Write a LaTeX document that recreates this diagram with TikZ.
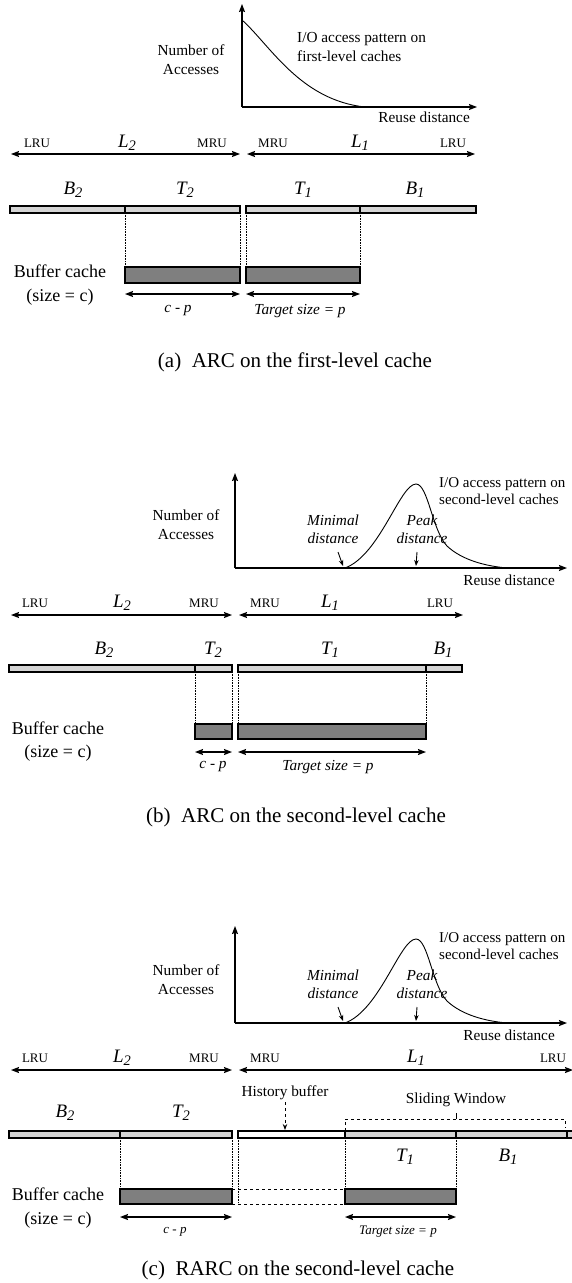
\documentclass[tikz,border=0pt]{standalone}
\usepackage{fontspec}
\setmainfont{Liberation Serif}
\usetikzlibrary{arrows.meta}
\definecolor{lightbar}{HTML}{D4D4D4}
\definecolor{darkbar}{HTML}{7F7F7F}
\newcommand{\lowsub}[1]{\raisebox{-3.2pt}{\fontsize{14.5}{14.5}\selectfont\itshape #1}}
\begin{document}
\begin{tikzpicture}[x=1pt,y=-1pt,
  >={Stealth[length=8pt,width=6pt,inset=1.2pt]},
  tx/.style={inner sep=0pt, font=\fontsize{15.3}{18}\selectfont},
  gtx/.style={inner sep=0pt, font=\fontsize{15.3}{19}\selectfont},
  ltx/.style={inner sep=0pt, font=\fontsize{13}{15}\selectfont},
  big/.style={inner sep=0pt, font=\fontsize{19}{22}\selectfont\itshape},
  buf/.style={inner sep=0pt, align=center, font=\fontsize{18}{23.5}\selectfont},
  captxt/.style={inner sep=0pt, font=\fontsize{21}{25}\selectfont},
  lab/.style={inner sep=0pt, font=\fontsize{15.3}{18}\selectfont\itshape},
  slab/.style={inner sep=0pt, font=\fontsize{13}{15}\selectfont\itshape},
  axis/.style={->, line width=1.2pt},
  dbl/.style={<->, line width=1.2pt},
  curve/.style={line width=0.9pt},
  lbar/.style={draw=black, line width=1.1pt, fill=lightbar},
  dbar/.style={draw=black, line width=1.1pt, fill=darkbar},
  wbar/.style={draw=black, line width=1.1pt, fill=white},
  guide/.style={densely dotted, line width=0.6pt},
  pointer/.style={->, line width=0.9pt, >={Stealth[length=6pt,width=4.5pt]}},
  dashbox/.style={dashed, line width=0.9pt}
]
\useasboundingbox (0,0) rectangle (571,1283);

% ================= Panel (a) =================
\coordinate (aO) at (242,107);
\coordinate (aY) at (242,4);
\coordinate (aX) at (477,107);
\draw[axis] (aO) -- (aY);
\draw[axis] (aO) -- (aX);
\draw[curve] (242,20) .. controls (270,45) and (300,100) .. (365,107);
\node[gtx, align=center] (aNum) at (191,60) {Number of\\Accesses};
\node[gtx, align=left, anchor=west] (aIO) at (297,47.5) {I/O access pattern on\\first-level caches};
\node[tx, anchor=east] (aReuse) at (470,117) {Reuse distance};

\node[ltx] (aLRU2) at (37,143) {LRU};
\node[big] (aL2) at (127,143) {L\lowsub{2}};
\node[ltx] (aMRU2) at (212,143) {MRU};
\node[ltx] (aMRU1) at (273,143) {MRU};
\node[big] (aL1) at (360,143) {L\lowsub{1}};
\node[ltx] (aLRU1) at (453,143) {LRU};
\coordinate (aLa) at (11,154); \coordinate (aLb) at (240,154);
\coordinate (aRa) at (247,154); \coordinate (aRb) at (475,154);
\draw[dbl] (aLa) -- (aLb);
\draw[dbl] (aRa) -- (aRb);

\node[big] (aB2) at (73,190) {B\lowsub{2}};
\node[big] (aT2) at (185,190) {T\lowsub{2}};
\node[big] (aT1) at (303,190) {T\lowsub{1}};
\node[big] (aB1) at (415,190) {B\lowsub{1}};

\draw[guide] (125,213) -- (125,267);
\draw[guide] (240,213) -- (240,267);
\draw[guide] (246,213) -- (246,267);
\draw[guide] (360,213) -- (360,267);
\draw[lbar] (10,206) rectangle (125,213);
\draw[lbar] (125,206) rectangle (240,213);
\draw[lbar] (246,206) rectangle (360,213);
\draw[lbar] (360,206) rectangle (476,213);

\draw[dbar] (125,267) rectangle (240,283);
\draw[dbar] (246,267) rectangle (360,283);
\node[buf] (aBuf) at (60,285) {Buffer cache\\(size = c)};
\coordinate (aCa) at (125,294); \coordinate (aCb) at (240,294);
\coordinate (aPa) at (246,294); \coordinate (aPb) at (360,294);
\draw[dbl] (aCa) -- (aCb);
\draw[dbl] (aPa) -- (aPb);
\node[lab] (aCP) at (178,311) {c - p};
\node[lab] (aTS) at (300,311) {Target size = p};
\node[captxt] (aCap) at (295,362) {(a)\ \ ARC on the first-level cache};

% ================= Panel (b) =================
\coordinate (bO) at (235,568);
\coordinate (bY) at (235,473);
\coordinate (bX) at (567,568);
\draw[axis] (bO) -- (bY);
\draw[axis] (bO) -- (bX);
\draw[curve] (345,568) .. controls (380,555) and (400,484) .. (416,484)
  .. controls (428,484) and (432,530) .. (447,546)
  .. controls (462,560) and (485,566) .. (507,568);
\node[gtx, align=center] (bNum) at (186,524.5) {Number of\\Accesses};
\node[lab, align=center] (bMin) at (333,529.5) {Minimal\\distance};
\node[lab, align=center] (bPeak) at (422,529.5) {Peak\\distance};
\coordinate (bMa) at (338,552); \coordinate (bMb) at (343,566);
\coordinate (bPa) at (417,552); \coordinate (bPb) at (416,566);
\draw[pointer] (bMa) -- (bMb);
\draw[pointer] (bPa) -- (bPb);
\node[inner sep=0pt, align=left, anchor=west, font=\fontsize{15}{17}\selectfont] (bIO) at (439,491) {I/O access pattern on\\second-level caches};
\node[tx, anchor=east] (bReuse) at (555,580) {Reuse distance};

\node[ltx] (bLRU2) at (35,603) {LRU};
\node[big] (bL2) at (122,603) {L\lowsub{2}};
\node[ltx] (bMRU2) at (204,603) {MRU};
\node[ltx] (bMRU1) at (265,603) {MRU};
\node[big] (bL1) at (330,603) {L\lowsub{1}};
\node[ltx] (bLRU1) at (440,603) {LRU};
\coordinate (bLa) at (11,615); \coordinate (bLb) at (232,615);
\coordinate (bRa) at (239,615); \coordinate (bRb) at (463,615);
\draw[dbl] (bLa) -- (bLb);
\draw[dbl] (bRa) -- (bRb);

\node[big] (bB2) at (104,650) {B\lowsub{2}};
\node[big] (bT2) at (213,650) {T\lowsub{2}};
\node[big] (bT1) at (330,650) {T\lowsub{1}};
\node[big] (bB1) at (443,650) {B\lowsub{1}};

\draw[guide] (195,672) -- (195,724);
\draw[guide] (232,672) -- (232,724);
\draw[guide] (238,672) -- (238,724);
\draw[guide] (426,672) -- (426,724);
\draw[lbar] (9,665) rectangle (195,672);
\draw[lbar] (195,665) rectangle (232,672);
\draw[lbar] (238,665) rectangle (426,672);
\draw[lbar] (426,665) rectangle (462,672);

\draw[dbar] (195,724) rectangle (232,739);
\draw[dbar] (238,724) rectangle (426,739);
\node[buf] (bBuf) at (58,741.5) {Buffer cache\\(size = c)};
\coordinate (bCa) at (195,752); \coordinate (bCb) at (232,752);
\coordinate (bTa) at (238,752); \coordinate (bTb) at (426,752);
\draw[dbl] (bCa) -- (bCb);
\draw[dbl] (bTa) -- (bTb);
\node[lab] (bCP) at (213,767) {c - p};
\node[lab] (bTS) at (328,767) {Target size = p};
\node[captxt] (bCap) at (296,817) {(b)\ \ ARC on the second-level cache};

% ================= Panel (c) =================
\coordinate (cO) at (235,1023);
\coordinate (cY) at (235,926);
\coordinate (cX) at (567,1023);
\draw[axis] (cO) -- (cY);
\draw[axis] (cO) -- (cX);
\draw[curve] (345,1023) .. controls (380,1010) and (400,939) .. (416,939)
  .. controls (428,939) and (432,985) .. (447,1001)
  .. controls (462,1015) and (485,1021) .. (507,1023);
\node[gtx, align=center] (cNum) at (186,979.5) {Number of\\Accesses};
\node[lab, align=center] (cMin) at (333,984.5) {Minimal\\distance};
\node[lab, align=center] (cPeak) at (422,984.5) {Peak\\distance};
\coordinate (cMa) at (338,1007); \coordinate (cMb) at (343,1021);
\coordinate (cPa) at (417,1007); \coordinate (cPb) at (416,1021);
\draw[pointer] (cMa) -- (cMb);
\draw[pointer] (cPa) -- (cPb);
\node[inner sep=0pt, align=left, anchor=west, font=\fontsize{15}{17}\selectfont] (cIO) at (439,946) {I/O access pattern on\\second-level caches};
\node[tx, anchor=east] (cReuse) at (555,1035) {Reuse distance};

\node[ltx] (cLRU2) at (35,1058) {LRU};
\node[big] (cL2) at (122,1058) {L\lowsub{2}};
\node[ltx] (cMRU2) at (204,1058) {MRU};
\node[ltx] (cMRU1) at (265,1058) {MRU};
\node[big] (cL1) at (416,1058) {L\lowsub{1}};
\node[ltx] (cLRU1) at (553,1058) {LRU};
\coordinate (cLa) at (11,1070); \coordinate (cLb) at (232,1070);
\coordinate (cRa) at (239,1070); \coordinate (cRb) at (573,1070);
\draw[dbl] (cLa) -- (cLb);
\draw[dbl] (cRa) -- (cRb);

\node[big] (cB2) at (65,1113) {B\lowsub{2}};
\node[big] (cT2) at (181,1113) {T\lowsub{2}};

\node[tx] (cHist) at (285,1093) {History buffer};
\coordinate (cHa) at (285,1102); \coordinate (cHb) at (285,1130);
\draw[pointer, dashed] (cHa) -- (cHb);
\node[tx] (cSlide) at (456,1100) {Sliding Window};
\draw[dashbox, line width=0.7pt] (345,1131) -- (345,1119) -- (565,1119) -- (565,1128);
\draw[line width=0.7pt] (456,1119) -- (456,1113);

\draw[guide] (120,1138) -- (120,1189);
\draw[guide] (232,1138) -- (232,1189);
\draw[guide] (238,1138) -- (238,1204);
\draw[guide] (345,1138) -- (345,1189);
\draw[guide] (456,1138) -- (456,1189);
\draw[lbar] (9,1131) rectangle (120,1138);
\draw[lbar] (120,1131) rectangle (232,1138);
\draw[wbar] (238,1131) rectangle (345,1138);
\draw[lbar] (345,1131) rectangle (456,1138);
\draw[lbar] (456,1131) rectangle (567,1138);
\draw[lbar] (567,1131) rectangle (578,1138);

\node[big] (cT1) at (405,1157) {T\lowsub{1}};
\node[big] (cB1) at (508,1157) {B\lowsub{1}};

\draw[dashbox] (232,1189) -- (345,1189);
\draw[dashbox] (232,1204) -- (345,1204);
\draw[dbar] (120,1189) rectangle (232,1204);
\draw[dbar] (345,1189) rectangle (456,1204);
\node[buf] (cBuf) at (58,1208) {Buffer cache\\(size = c)};
\coordinate (cCa) at (120,1217); \coordinate (cCb) at (232,1217);
\coordinate (cTa) at (345,1217); \coordinate (cTb) at (456,1217);
\draw[dbl] (cCa) -- (cCb);
\draw[dbl] (cTa) -- (cTb);
\node[slab] (cCP) at (175,1232) {c - p};
\node[slab] (cTS) at (398,1232) {Target size = p};
\node[captxt] (cCap) at (298,1270) {(c)\ \ RARC on the second-level cache};
\end{tikzpicture}
\end{document}
